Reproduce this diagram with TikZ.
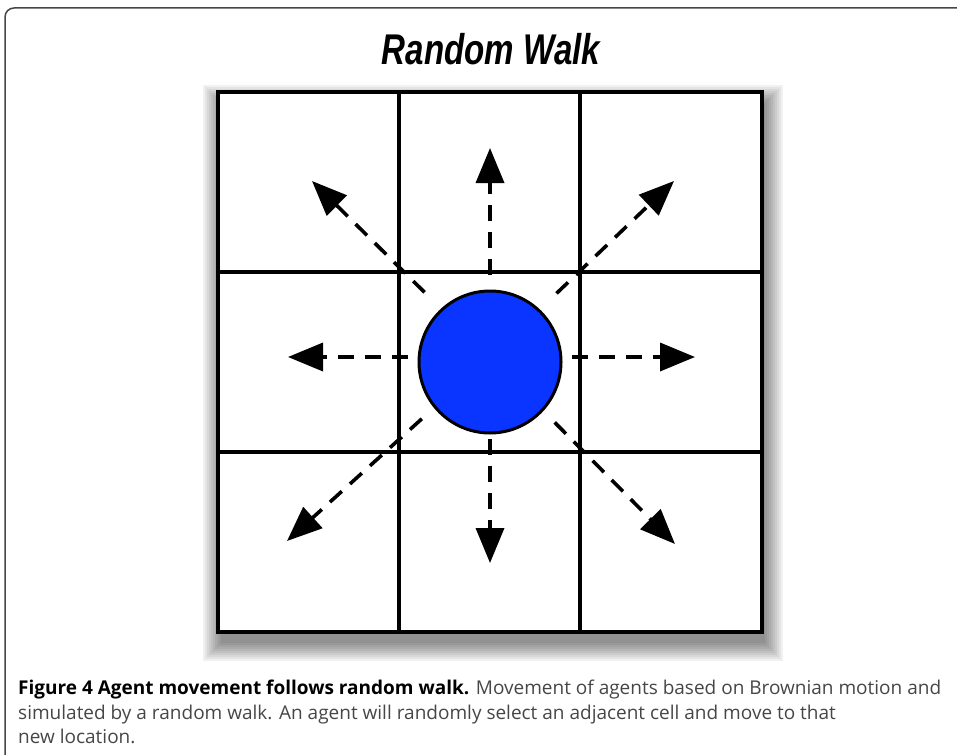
\documentclass[tikz,border=0pt]{standalone}
\usepackage{fontspec}
\setmainfont{Open Sans}
\newfontfamily\titlefont{Liberation Sans}
\usetikzlibrary{arrows.meta}
\definecolor{agentblue}{RGB}{10,52,255}
\definecolor{captiongray}{RGB}{70,70,70}
\definecolor{framegray}{RGB}{70,70,70}
\begin{document}
\begin{tikzpicture}[x=1pt,y=-1pt,
    gridline/.style={line width=3.6pt, black},
    walk/.style={line width=3.6pt, dash pattern=on 16pt off 11pt,
      -{Triangle[length=35pt,width=28pt]}},
    agent/.style={circle, fill=agentblue, draw=black, line width=3pt,
      minimum size=142pt, inner sep=0pt}]
  \useasboundingbox (0,0) rectangle (957,754);
  % frame
  \draw [framegray, line width=1.5pt, rounded corners=9pt] (970,8) -- (5,8) -- (5,763) -- (30,763);
  \node [anchor=base] (title) at (491,65)
    {\titlefont\bfseries\itshape\fontsize{43}{43}\selectfont\scalebox{0.77}[1]{Random Walk}};
  % shadow and grid
  \foreach \s in {0,2,...,18}
    \fill [black, opacity=0.055] (221-\s,103-\s) rectangle (765+\s,643+\s);
  \fill [white] (218,92) rectangle (762,632);
  \foreach \x in {399,580}
    \draw [gridline] (\x,92) -- (\x,632);
  \foreach \y in {272,452}
    \draw [gridline] (218,\y) -- (762,\y);
  \draw [gridline] (218,92) rectangle (762,632);
  % agent and moves
  \node [agent] (agent) at (490,362) {};
  \coordinate (hub) at (490,357);
  \coordinate (up) at (490,148);
  \coordinate (down) at (490,563);
  \coordinate (left) at (288,357);
  \coordinate (right) at (695,357);
  \coordinate (upleft) at (312,181);
  \coordinate (upright) at (674,181);
  \coordinate (downleft) at (287,541);
  \coordinate (downright) at (675,544);
  \foreach \t in {up,down,left,right}
    \draw [walk, shorten <=82pt] (hub) -- (\t);
  \foreach \t in {upleft,upright,downleft,downright}
    \draw [walk, shorten <=92pt] (hub) -- (\t);
  % caption
  \node [anchor=north west, align=left, inner sep=0pt, text=captiongray,
    font=\fontsize{19}{24.5}\selectfont] (caption) at (18,680)
    {\textcolor{black}{\bfseries Figure 4 Agent movement follows random walk.} Movement of agents based on Brownian motion and\\
     simulated by a random walk. An agent will randomly select an adjacent cell and move to that\\
     new location.};
\end{tikzpicture}
\end{document}
